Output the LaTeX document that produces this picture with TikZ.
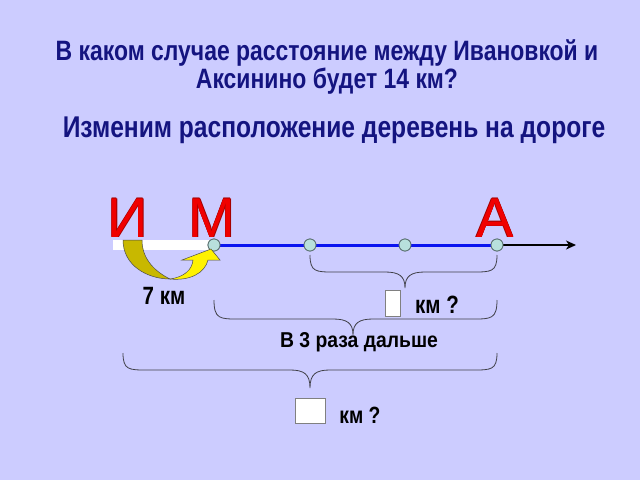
\documentclass[tikz,border=0pt]{standalone}
\usepackage{fontspec}
\setmainfont{Liberation Sans}
\newfontfamily\narrowf{Liberation Sans}[FakeStretch=0.82]
\newfontfamily\semif{Liberation Sans}[FakeStretch=0.9]
\usetikzlibrary{arrows.meta}
\definecolor{bg}{HTML}{CCCCFF}
\definecolor{ttl}{HTML}{141480}
\definecolor{vred}{HTML}{F00000}
\definecolor{vdark}{HTML}{A00000}
\definecolor{road}{HTML}{0A14F0}
\definecolor{dotfill}{HTML}{B8E0DC}
\definecolor{dotline}{HTML}{5A7070}
\definecolor{olive}{HTML}{C8B800}
\definecolor{brc}{HTML}{404048}
\tikzset{
  title/.style={text=ttl, font=\narrowf\bfseries\fontsize{28}{32}\selectfont, anchor=base, inner sep=0pt},
  village/.style={font=\fontsize{56}{60}\selectfont, anchor=base, inner sep=0pt},
  lbl/.style={text=black, font=\narrowf\bfseries\fontsize{24}{28}\selectfont, anchor=base, inner sep=0pt},
  dot/.style={circle, fill=dotfill, draw=dotline, line width=0.8pt, minimum size=12pt, inner sep=0pt},
  ansbox/.style={fill=white, draw=gray, line width=0.6pt, inner sep=0pt},
  brace/.style={draw=brc, line width=0.8pt},
}
\newcommand{\mybrace}[6]{% x0 x1 xtip ytop ybot ytip
  \draw[brace] (#1,#4) .. controls (#1,#5) and (#1+6,#5) .. (#1+24,#5) -- (#3-20,#5)
    .. controls (#3-6,#5) and (#3,#5+4) .. (#3,#6)
    .. controls (#3,#5+4) and (#3+6,#5) .. (#3+20,#5) -- (#2-24,#5)
    .. controls (#2-6,#5) and (#2,#5) .. (#2,#4);}
\newcommand{\villagelabel}[4]{% name x y text
  \foreach \dx/\dy in {-0.5/0,0.5/0,0/-0.5,0/0.5}
    {\node[village, text=vdark] at (#2+\dx,#3+\dy) {#4};}
  \node[village, text=vred] (#1) at (#2,#3) {#4};}
\begin{document}
\begin{tikzpicture}[x=1pt,y=-1pt]
\fill[bg] (0,0) rectangle (640,480);
\useasboundingbox (0,0) rectangle (640,480);

\node[title, align=center, font=\narrowf\bfseries\fontsize{28}{25}\selectfont] (t1) at (327,88)
  {В каком случае расстояние между Ивановкой и\\Аксинино будет 14 км?};
\node[title, font=\narrowf\bfseries\fontsize{30}{34}\selectfont] (t3) at (334,137) {Изменим расположение деревень на дороге};

\villagelabel{lI}{128}{237}{И}
\villagelabel{lM}{212}{237}{М}
\villagelabel{lA}{495}{237}{А}

% white bar
\fill[white] (113,240) rectangle (213,250);

\node[dot] (dM) at (214,245) {};
\node[dot] (d2) at (310,245) {};
\node[dot] (d3) at (405,245) {};
\node[dot] (dA) at (497,245) {};
\coordinate (end) at (576,245);

\draw[black, line width=1.6pt, -{Stealth[length=10pt,width=9pt,inset=3pt]}] (dA) -- (end);
\draw[road, line width=3pt] (dM) -- (d2);
\draw[road, line width=3pt] (d2) -- (d3);
\draw[road, line width=3pt] (d3) -- (dA);
\node[dot] at (214,245) {};
\node[dot] at (310,245) {};
\node[dot] at (405,245) {};
\node[dot] at (497,245) {};

% curved yellow arrow
\filldraw[fill=olive, draw=black!70, line width=0.5pt]
  (123,240) .. controls (123,266) and (148,279) .. (170,279)
  .. controls (156,272) and (142,260) .. (142,240) -- cycle;
\filldraw[fill=yellow, draw=black!70, line width=0.5pt]
  (170,279) .. controls (184,277) and (192,270) .. (193,260) -- (182,260) -- (211,249) -- (220,260) -- (208,260)
  .. controls (205,273) and (190,281) .. (170,279) -- cycle;

\node[lbl, font=\narrowf\bfseries\fontsize{25}{28}\selectfont] (seven) at (164,304) {7 км};

% brace 1
\mybrace{310}{497}{405}{255}{272}{288}
\node[ansbox, minimum width=15pt, minimum height=26pt] (b1) at (393,303) {};
\node[lbl, font=\narrowf\bfseries\fontsize{25}{28}\selectfont] (q1) at (437,313) {км ?};

% brace 2
\mybrace{214}{497}{353}{300}{319}{335}
\node[lbl, font=\semif\bfseries\fontsize{21.5}{24}\selectfont] (far) at (359,347) {В 3 раза дальше};

% brace 3
\mybrace{123}{497}{310}{353}{370}{388}
\node[ansbox, minimum width=30pt, minimum height=25pt] (b2) at (310,410.5) {};
\node[lbl, font=\narrowf\bfseries\fontsize{23.5}{26}\selectfont] (q2) at (360,423) {км ?};
\end{tikzpicture}
\end{document}
